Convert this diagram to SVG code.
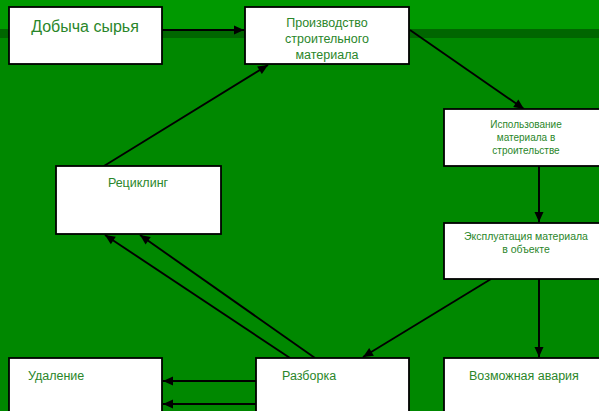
<svg xmlns="http://www.w3.org/2000/svg" width="599" height="411" viewBox="0 0 599 411">
<style>
.box{fill:#fff;stroke:#000;stroke-width:1.8}
.t{font-family:"Liberation Sans",Arial,sans-serif;fill:#2a862a}
.c{stroke:#000;stroke-width:1.9;fill:none;marker-end:url(#ah)}
</style>
<defs>
<marker id="ah" viewBox="0 0 10 10" refX="10" refY="5" markerWidth="11" markerHeight="10" markerUnits="userSpaceOnUse" orient="auto">
<path d="M0,0.5 L10,5 L0,9.5 z" fill="#000"/>
</marker>
</defs>
<rect x="0" y="0" width="599" height="411" fill="#008800"/>
<rect x="0" y="0" width="599" height="29" fill="#009900"/>
<rect x="0" y="29" width="599" height="9" fill="#006600"/>
<g id="connectors">
<line class="c" x1="162" y1="30" x2="244" y2="30"/>
<line class="c" x1="410" y1="30" x2="524" y2="109"/>
<line class="c" x1="539" y1="166" x2="539" y2="222"/>
<line class="c" x1="539" y1="279" x2="539" y2="357"/>
<line class="c" x1="491" y1="279" x2="363" y2="357"/>
<line class="c" x1="290" y1="358" x2="105" y2="235"/>
<line class="c" x1="315" y1="358" x2="140" y2="235"/>
<line class="c" x1="104" y1="166" x2="268" y2="65"/>
<line class="c" x1="256" y1="381" x2="163" y2="381"/>
<line class="c" x1="256" y1="404" x2="163" y2="404"/>
</g>
<g id="n1"><rect class="box" x="9" y="7" width="153" height="57"/><text class="t" x="85" y="32" font-size="16" text-anchor="middle">Добыча сырья</text></g>
<g id="n2"><rect class="box" x="245" y="7" width="164" height="57"/><text class="t" font-size="12.5" text-anchor="middle"><tspan x="327" y="27">Производство</tspan><tspan x="327" y="43">строительного</tspan><tspan x="327" y="59">материала</tspan></text></g>
<g id="n3"><rect class="box" x="444" y="109" width="160" height="57"/><text class="t" font-size="10" text-anchor="middle"><tspan x="526" y="128">Использование</tspan><tspan x="526" y="141">материала в</tspan><tspan x="526" y="154">строительстве</tspan></text></g>
<g id="n4"><rect class="box" x="444" y="223" width="160" height="56"/><text class="t" font-size="10.5" text-anchor="middle"><tspan x="526" y="240">Эксплуатация материала</tspan><tspan x="526" y="253">в объекте</tspan></text></g>
<g id="n5"><rect class="box" x="56" y="166" width="165" height="68"/><text class="t" x="138" y="187" font-size="12.5" text-anchor="middle">Рециклинг</text></g>
<g id="n6"><rect class="box" x="9" y="358" width="153" height="60"/><text class="t" x="28" y="380" font-size="12.5">Удаление</text></g>
<g id="n7"><rect class="box" x="256" y="358" width="153" height="60"/><text class="t" x="282" y="380" font-size="12.5">Разборка</text></g>
<g id="n8"><rect class="box" x="444" y="358" width="160" height="60"/><text class="t" x="469" y="380" font-size="12.5">Возможная авария</text></g>
</svg>
